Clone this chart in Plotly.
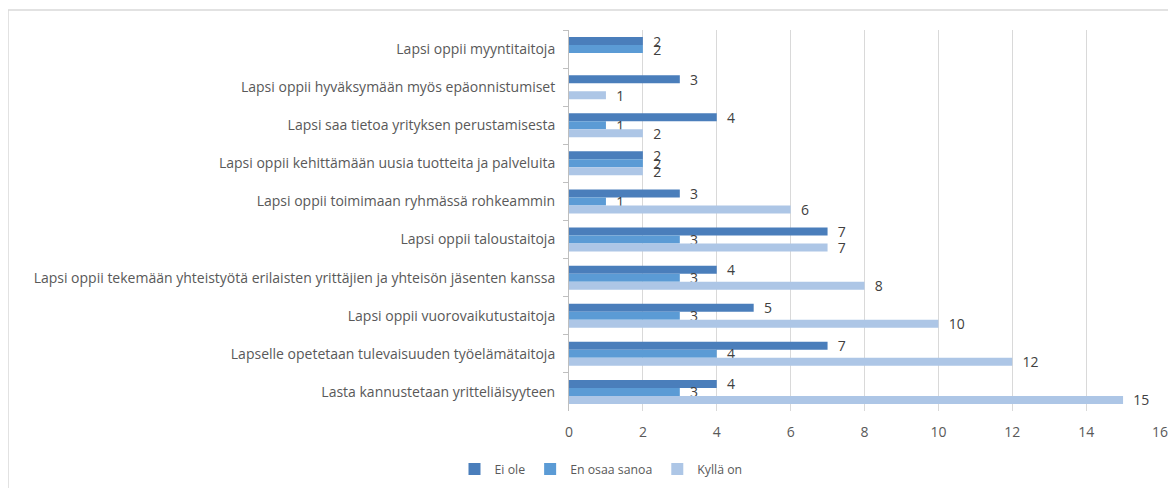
import plotly.graph_objects as go

categories = [
    "Lapsi oppii myyntitaitoja",
    "Lapsi oppii hyväksymään myös epäonnistumiset",
    "Lapsi saa tietoa yrityksen perustamisesta",
    "Lapsi oppii kehittämään uusia tuotteita ja palveluita",
    "Lapsi oppii toimimaan ryhmässä rohkeammin",
    "Lapsi oppii taloustaitoja",
    "Lapsi oppii tekemään yhteistyötä erilaisten yrittäjien ja yhteisön jäsenten kanssa",
    "Lapsi oppii vuorovaikutustaitoja",
    "Lapselle opetetaan tulevaisuuden työelämätaitoja",
    "Lasta kannustetaan yritteliäisyyteen",
]
ei_ole = [2, 3, 4, 2, 3, 7, 4, 5, 7, 4]
en_osaa_sanoa = [2, None, 1, 2, 1, 3, 3, 3, 4, 3]
kylla_on = [None, 1, 2, 2, 6, 7, 8, 10, 12, 15]
x_ticks = [0, 2, 4, 6, 8, 10, 12, 14, 16]

series = [
    ("Ei ole", ei_ole, "#4A7EBB"),
    ("En osaa sanoa", en_osaa_sanoa, "#5B9BD5"),
    ("Kyllä on", kylla_on, "#ADC6E6"),
]

FONT = "Open Sans"
# page body has an 8px default margin: figure is drawn at (8, 8)
W, H = 1168, 480
L, R, T, B = 561, 16, 22, 77
pw = W - L - R
ph = H - T - B

fig = go.Figure()
for name, vals, col in series:
    fig.add_trace(go.Bar(
        y=categories, x=vals, name=name, orientation="h",
        marker=dict(color=col, line=dict(width=0)),
        text=vals, texttemplate="\u00a0\u00a0%{x}", textposition="outside",
        textfont=dict(size=14, color="#404040", family=FONT),
        constraintext="none", cliponaxis=False,
    ))

fig.update_layout(
    width=W, height=H,
    margin=dict(l=L, r=R, t=T, b=B, autoexpand=False),
    paper_bgcolor="white", plot_bgcolor="white",
    barmode="group", bargap=0.37, bargroupgap=0,
    font=dict(family=FONT, size=14, color="#595959"),
    legend=dict(orientation="h", x=(601 - 8 - L) / pw, xanchor="center",
                y=(H - B - (469 - 8)) / ph, yanchor="middle", itemwidth=30,
                font=dict(size=12.3, color="#595959", family=FONT), traceorder="normal"),
    xaxis=dict(range=[0, 16], tickvals=x_ticks, showgrid=True, gridcolor="#D9D9D9",
               gridwidth=1, zeroline=False, showline=False, ticks="",
               tickfont=dict(size=14, color="#595959"), ticklabelstandoff=11),
    yaxis=dict(autorange="reversed", showline=True, linecolor="#BFBFBF", linewidth=1,
               ticks="outside", tickson="boundaries", ticklen=5, tickcolor="#BFBFBF",
               tickfont=dict(size=14, color="#595959"), showgrid=False, ticklabelstandoff=10),
    shapes=[dict(type="rect", xref="paper", yref="paper",
                 x0=(0 - L) / pw, x1=1.2, y0=-1, y1=(H - B - 2) / ph,
                 line=dict(color="#D9D9D9", width=1.5), fillcolor="rgba(0,0,0,0)", layer="below")],
)

fig.write_html("out.html")
